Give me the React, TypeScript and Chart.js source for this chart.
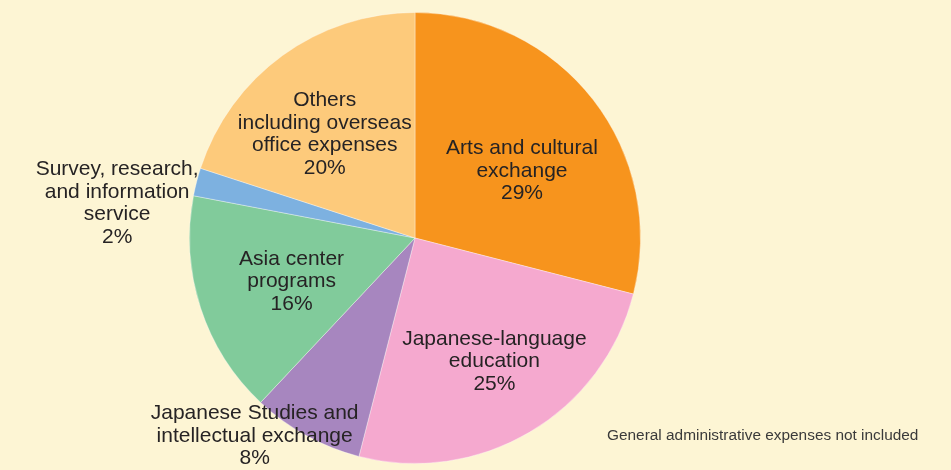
import React, { useEffect, useRef } from "react";
import { Chart, registerables } from "chart.js";

Chart.register(...registerables);

const categories = [
  ["Arts and cultural", "exchange"],
  ["Japanese-language", "education"],
  ["Japanese Studies and", "intellectual exchange"],
  ["Asia center", "programs"],
  ["Survey, research,", "and information", "service"],
  ["Others", "including overseas", "office expenses"],
];
const shares = [29, 25, 8, 16, 2, 20];
const colors = ["#f7941d", "#f5a9cf", "#a786bf", "#81cb9b", "#7db1e0", "#fdca7b"];
const footnote = "General administrative expenses not included";

// label placement style: angle offset from slice middle (deg), distance as fraction of radius
const labelAngleOffset = [5.7, -2.2, 10.2, -1.3, -7.7, -5];
const labelRadius = [0.56, 0.65, 1.13, 0.58, 1.33, 0.61];

const FONT = '"Liberation Sans", Arial, Helvetica, sans-serif';

const labelPlugin = {
  id: "sliceLabels",
  afterDraw(chart: any) {
    const ctx = chart.ctx;
    const meta = chart.getDatasetMeta(0);
    ctx.save();
    ctx.fillStyle = "#262324";
    ctx.font = `21px ${FONT}`;
    ctx.textAlign = "center";
    ctx.textBaseline = "middle";
    const lh = 22.5;
    meta.data.forEach((arc: any, i: number) => {
      const mid = (arc.startAngle + arc.endAngle) / 2 + (labelAngleOffset[i] * Math.PI) / 180;
      const r = arc.outerRadius * labelRadius[i];
      const cx = arc.x + Math.cos(mid) * r;
      const cy = arc.y + Math.sin(mid) * r;
      const lines = [...categories[i], `${shares[i]}%`];
      const y0 = cy - ((lines.length - 1) * lh) / 2;
      lines.forEach((t, k) => ctx.fillText(t, cx, y0 + k * lh));
    });
    ctx.font = `15.4px ${FONT}`;
    ctx.fillStyle = "#3a3a3a";
    ctx.textAlign = "left";
    ctx.fillText(footnote, 607, 436);
    ctx.restore();
  },
};

export default function App() {
  const ref = useRef<HTMLCanvasElement>(null);
  useEffect(() => {
    document.body.style.margin = "0";
    const chart = new Chart(ref.current!, {
      type: "pie",
      data: {
        labels: categories.map((c) => c.join(" ")),
        datasets: [
          {
            data: shares,
            backgroundColor: colors,
            borderColor: "rgba(255,255,255,0.35)",
            borderWidth: 1,
          },
        ],
      },
      options: {
        responsive: false,
        animation: false,
        devicePixelRatio: 1,
        layout: { padding: { top: 12, bottom: 6, left: 0, right: 121 } },
        plugins: { legend: { display: false }, tooltip: { enabled: false } },
      },
      plugins: [labelPlugin],
    });
    return () => chart.destroy();
  }, []);
  return (
    <div style={{ position: "fixed", left: 0, top: 0, width: 951, height: 470, background: "#fdf5d4" }}>
      <canvas ref={ref} width={951} height={470} style={{ width: 951, height: 470, display: "block" }} />
    </div>
  );
}
